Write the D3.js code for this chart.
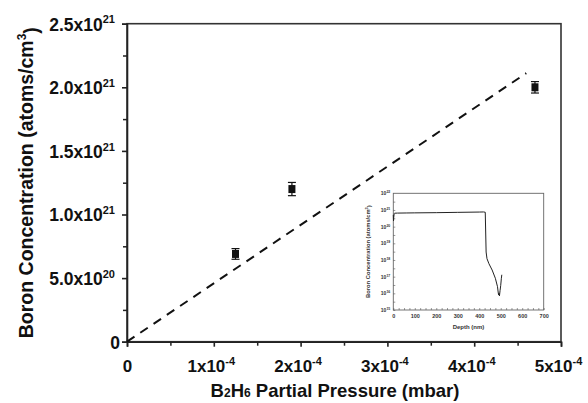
<!DOCTYPE html>
<html>
<head>
<meta charset="utf-8">
<script src="https://cdn.jsdelivr.net/npm/d3@7"></script>
<style>
  body { margin: 0; background: #fff; }
  svg { display: block; font-family: "Liberation Sans", Arial, sans-serif; }
  svg g { font-family: "Liberation Sans", Arial, sans-serif; }
</style>
</head>
<body>
<svg></svg>
<script>
// main chart data
let pressure = [1.25e-4, 1.9e-4, 4.7e-4];
let boron = [6.9e20, 1.2e21, 2.0e21];
let boronErr = [0.42e20, 0.52e20, 0.45e20];
let fitSlope = 4.59e24;
let fitEnd = 4.6e-4;

let xTicks = [0, 1e-4, 2e-4, 3e-4, 4e-4, 5e-4];
let xTickMant = ["0", "1", "2", "3", "4", "5"];
let xTickExp = ["", "-4", "-4", "-4", "-4", "-4"];
let yTicks = [0, 5e20, 1e21, 1.5e21, 2e21, 2.5e21];
let yTickMant = ["0", "5.0", "1.0", "1.5", "2.0", "2.5"];
let yTickExp = ["", "20", "21", "21", "21", "21"];

// inset SIMS profile
let depth = [0, 1, 2, 4, 6, 20, 60, 100, 200, 300, 400, 420, 428, 432, 436, 445, 460, 475, 485, 488, 490, 492, 494, 497, 500, 503, 505];
let conc = [5e20, 2.2e20, 3.5e20, 6e20, 6.4e20, 6.5e20, 6.6e20, 6.7e20, 6.9e20, 7.2e20, 7.5e20, 7.6e20, 7.3e20, 3e18, 1.2e18, 6e17, 2.5e17, 8e16, 2.5e16, 1.2e16, 8e15, 1e16, 7e15, 1.5e16, 3e16, 8e16, 1.3e17];
let insetXTicks = [0, 100, 200, 300, 400, 500, 600, 700];
let insetYExp = [15, 16, 17, 18, 19, 20, 21, 22];

let width = 588, height = 403;
let svg = d3.select('svg').attr('width', width).attr('height', height);

let mLeft = 127, mRight = 561, mTop = 23.7, mBottom = 341.7;
let x = d3.scaleLinear().domain([0, 5e-4]).range([mLeft, mRight]);
let y = d3.scaleLinear().domain([0, 2.5e21]).range([mBottom, mTop]);

let axisColor = '#222';
let fontFam = '"Liberation Sans", Arial, sans-serif';

// frame
svg.append('rect')
   .attr('x', mLeft).attr('y', mTop)
   .attr('width', mRight - mLeft).attr('height', mBottom - mTop)
   .attr('fill', 'none').attr('stroke', '#333').attr('stroke-width', 1.6);

// x axis
let xMinor = d3.range(0.5e-4, 5e-4, 1e-4);
svg.append('g')
   .attr('transform', `translate(0,${mBottom})`)
   .call(d3.axisBottom(x).tickValues(xMinor).tickSize(4).tickFormat(''))
   .call(g => g.select('.domain').remove())
   .selectAll('line').attr('stroke', axisColor).attr('stroke-width', 1.5);

let xAx = svg.append('g')
   .attr('transform', `translate(0,${mBottom})`)
   .call(d3.axisBottom(x).tickValues(xTicks).tickSize(5).tickFormat(''))
   .attr('font-family', fontFam);
xAx.select('.domain').attr('stroke', axisColor).attr('stroke-width', 1.6);
xAx.selectAll('line').attr('stroke', axisColor).attr('stroke-width', 1.6);
xAx.selectAll('.tick text').each(function(d, i) {
  let t = d3.select(this)
    .attr('font-size', 17).attr('font-weight', 'bold').attr('fill', '#111')
    .attr('dy', null).attr('y', 30).attr('x', i == 0 ? 0 : -3);
  t.append('tspan').text(xTickMant[i] + (xTickExp[i] ? 'x10' : ''));
  if (xTickExp[i]) t.append('tspan').attr('font-size', 11).attr('dy', '-0.6em').text(xTickExp[i]);
});

// y axis
let yMinor = d3.range(2.5e20, 2.5e21, 5e20);
svg.append('g')
   .attr('transform', `translate(${mLeft},0)`)
   .call(d3.axisLeft(y).tickValues(yMinor).tickSize(4).tickFormat(''))
   .call(g => g.select('.domain').remove())
   .selectAll('line').attr('stroke', axisColor).attr('stroke-width', 1.5);

let yAx = svg.append('g')
   .attr('transform', `translate(${mLeft},0)`)
   .call(d3.axisLeft(y).tickValues(yTicks).tickSize(5).tickFormat(''))
   .attr('font-family', fontFam);
yAx.select('.domain').attr('stroke', axisColor).attr('stroke-width', 1.6);
yAx.selectAll('line').attr('stroke', axisColor).attr('stroke-width', 1.6);
yAx.selectAll('.tick text').each(function(d, i) {
  let t = d3.select(this)
    .attr('font-size', 17.5).attr('font-weight', 'bold').attr('fill', '#111')
    .attr('x', i == 0 ? -7 : -12).attr('dy', '0.36em').attr('text-anchor', 'end');
  t.append('tspan').text(yTickMant[i] + (yTickExp[i] ? 'x10' : ''));
  if (yTickExp[i]) t.append('tspan').attr('font-size', 11).attr('dy', '-0.65em').text(yTickExp[i]);
});

// axis titles
let xt = svg.append('text')
   .attr('x', (mLeft + mRight) / 2 - 9).attr('y', 397)
   .attr('text-anchor', 'middle').attr('font-size', 18.5).attr('font-weight', 'bold').attr('fill', '#111');
xt.append('tspan').text('B');
xt.append('tspan').attr('font-size', 12).text('2');
xt.append('tspan').text('H');
xt.append('tspan').attr('font-size', 12).text('6');
xt.append('tspan').text(' Partial Pressure (mbar)');

let yt = svg.append('text')
   .attr('transform', `translate(33,${(mTop + mBottom) / 2}) rotate(-90)`)
   .attr('text-anchor', 'middle').attr('font-size', 19.5).attr('font-weight', 'bold').attr('fill', '#111');
yt.append('tspan').text('Boron Concentration (atoms/cm');
yt.append('tspan').attr('font-size', 12).attr('dy', '-0.6em').text('3');
yt.append('tspan').attr('dy', '0.6em').text(')');

// linear fit
svg.append('line')
   .attr('x1', x(0)).attr('y1', y(0))
   .attr('x2', x(fitEnd)).attr('y2', y(fitSlope * fitEnd))
   .attr('stroke', '#111').attr('stroke-width', 2)
   .attr('stroke-dasharray', '9,7');

// data with error bars
let pts = svg.append('g').selectAll('g')
   .data(pressure.map((p, i) => ({p: p, b: boron[i], e: boronErr[i]})))
   .enter().append('g');
pts.append('line')
   .attr('x1', d => x(d.p)).attr('x2', d => x(d.p))
   .attr('y1', d => y(d.b - d.e)).attr('y2', d => y(d.b + d.e))
   .attr('stroke', '#111').attr('stroke-width', 1.2);
[-1, 1].forEach(s => {
  pts.append('line')
     .attr('x1', d => x(d.p) - 4).attr('x2', d => x(d.p) + 4)
     .attr('y1', d => y(d.b + s * d.e)).attr('y2', d => y(d.b + s * d.e))
     .attr('stroke', '#111').attr('stroke-width', 1.2);
});
pts.append('rect')
   .attr('x', d => x(d.p) - 3.5).attr('y', d => y(d.b) - 4)
   .attr('width', 7).attr('height', 8)
   .attr('fill', '#111');

// ---- inset ----
let iL = 393.3, iR = 543.7, iT = 193.3, iB = 310;
let ix = d3.scaleLinear().domain([0, 700]).range([iL, iR]);
let iy = d3.scaleLog().domain([1e15, 1e22]).range([iB, iT]);
let inset = svg.append('g');

inset.append('rect')
   .attr('x', iL).attr('y', iT).attr('width', iR - iL).attr('height', iB - iT)
   .attr('fill', '#fff').attr('stroke', '#666').attr('stroke-width', 0.9);

let ixAx = inset.append('g')
   .attr('transform', `translate(0,${iB})`)
   .call(d3.axisBottom(ix).tickValues(d3.range(0, 701, 25)).tickSize(-2).tickFormat(''));
ixAx.select('.domain').remove();
ixAx.selectAll('line').attr('stroke', '#555').attr('stroke-width', 0.6);
inset.append('g')
   .attr('transform', `translate(0,${iB})`)
   .call(d3.axisBottom(ix).tickValues(insetXTicks).tickSize(0).tickPadding(4).tickFormat(d3.format('d')))
   .attr('font-family', fontFam)
   .call(g => g.select('.domain').remove())
   .selectAll('text').attr('font-size', 5.5).attr('font-weight', 'bold').attr('fill', '#333');

let iyAx = inset.append('g')
   .attr('transform', `translate(${iL},0)`)
   .call(d3.axisLeft(iy).tickValues(d3.range(15, 22, 0.5).map(e => Math.pow(10, e))).tickSize(-2).tickFormat(''));
iyAx.select('.domain').remove();
iyAx.selectAll('line').attr('stroke', '#555').attr('stroke-width', 0.6);
inset.append('g')
   .attr('transform', `translate(${iL},0)`)
   .call(d3.axisLeft(iy).tickValues(insetYExp.map(e => Math.pow(10, e))).tickSize(0).tickPadding(3).tickFormat(''))
   .attr('font-family', fontFam)
   .call(g => g.select('.domain').remove())
   .selectAll('.tick text').each(function(d, i) {
     let t = d3.select(this).attr('font-size', 5).attr('font-weight', 'bold').attr('fill', '#333');
     t.append('tspan').text('10');
     t.append('tspan').attr('font-size', 3.5).attr('dy', '-0.6em').text(insetYExp[i]);
   });

inset.append('text')
   .attr('x', (iL + iR) / 2).attr('y', 329)
   .attr('text-anchor', 'middle').attr('font-size', 6).attr('font-weight', 'bold').attr('fill', '#333')
   .text('Depth (nm)');
let iyt = inset.append('text')
   .attr('transform', `translate(370,${(iT + iB) / 2}) rotate(-90)`)
   .attr('text-anchor', 'middle').attr('font-size', 5.8).attr('font-weight', 'bold').attr('fill', '#333');
iyt.append('tspan').text('Boron Concentration (atoms/cm');
iyt.append('tspan').attr('font-size', 3.8).attr('dy', '-0.6em').text('3');
iyt.append('tspan').attr('dy', '0.6em').text(')');

inset.append('path')
   .datum(depth.map((d, i) => [d, conc[i]]))
   .attr('d', d3.line().x(d => ix(d[0])).y(d => iy(d[1])))
   .attr('fill', 'none').attr('stroke', '#222').attr('stroke-width', 1);
</script>
</body>
</html>
